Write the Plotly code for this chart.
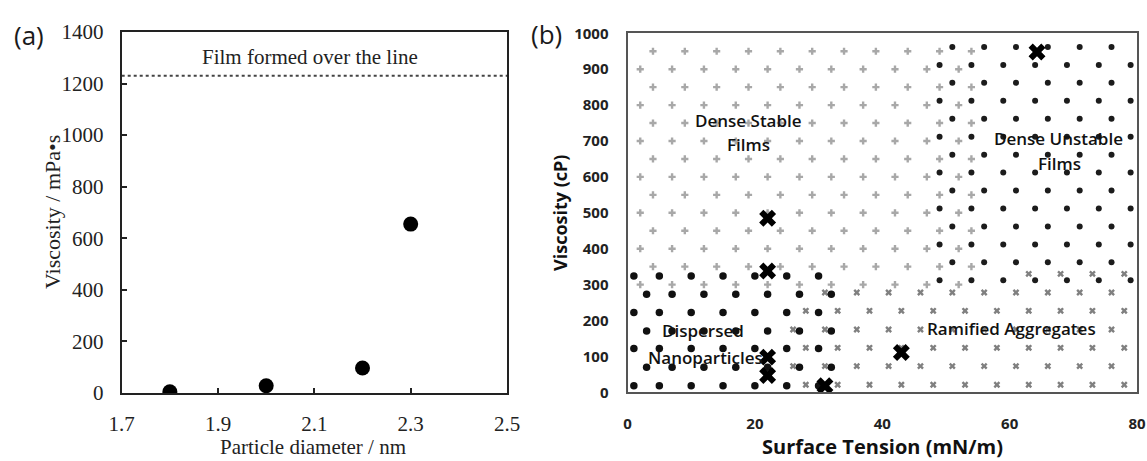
import plotly.graph_objects as go

# ---------------- Panel (a): viscosity vs particle diameter ----------------
diameter_nm = [1.8, 2.0, 2.2, 2.3]
viscosity_mpas = [5, 28, 97, 655]
film_threshold = 1230
a_xticks = [1.7, 1.9, 2.1, 2.3, 2.5]
a_yticks = [0, 200, 400, 600, 800, 1000, 1200, 1400]

# ---------------- Panel (b): regime map ----------------
# Dense stable films (grey crosses): two interleaved row sets
stable_y_odd = [950, 850, 750, 650, 550, 450, 350]
stable_x_odd = [4, 9, 14, 19, 24, 29, 34, 39, 44, 49, 54]
stable_y_even = [900, 800, 700, 600, 500, 400, 300]
stable_x_even = [2, 7, 12, 17, 22, 27, 32, 37, 42, 47, 52]

# Dense unstable films (small black dots)
unstable_y_odd = [962, 862, 762, 662, 562, 462, 362]
unstable_x_odd = [51, 56, 61, 66, 71, 76]
unstable_y_even = [912, 812, 712, 612, 512, 412, 312]
unstable_x_even = [49, 54, 59, 64, 69, 74, 79]

# Dispersed nanoparticles (black dots)
dispersed_y_odd = [324, 222, 122, 18]
dispersed_x_odd = [1, 5, 10, 15, 20, 25, 30]
dispersed_y_even = [273, 171, 70]
dispersed_x_even = [3, 7, 12, 17, 22, 27, 32]

# Ramified aggregates (grey x)
ramified_rows = [
    (330, [63, 68, 73, 78]),
    (278, [31, 36, 41, 46, 51, 56, 61, 66, 71, 76]),
    (227, [28, 33, 38, 43, 48, 53, 58, 63, 68, 73, 78]),
    (175, [26, 31, 36, 41, 46, 51, 56, 61, 66, 71, 76]),
    (124, [28, 33, 38, 43, 48, 53, 58, 63, 68, 73, 78]),
    (73, [26, 31, 36, 41, 46, 51, 56, 61, 66, 71, 76]),
    (21, [28, 33, 38, 43, 48, 53, 58, 63, 68, 73, 78]),
]

# Experimental conditions (bold crosses)
experiment_tension = [64.3, 22, 22, 22, 22, 31, 43]
experiment_viscosity = [948, 485, 338, 98, 47, 18, 111]

b_xticks = [0, 20, 40, 60, 80]
b_yticks = [0, 100, 200, 300, 400, 500, 600, 700, 800, 900, 1000]


def grid(ys, xs):
    px, py = [], []
    for yv in ys:
        for xv in xs:
            px.append(xv)
            py.append(yv)
    return px, py


def rows(row_list):
    px, py = [], []
    for yv, xs in row_list:
        for xv in xs:
            px.append(xv)
            py.append(yv)
    return px, py


serif = "Liberation Serif"
sans = "Open Sans"

fig = go.Figure()

# Panel (a) data
fig.add_trace(go.Scatter(
    x=diameter_nm, y=viscosity_mpas, mode="markers",
    marker=dict(symbol="circle", size=15, color="#000000"),
    xaxis="x", yaxis="y", showlegend=False, hoverinfo="skip"))

# Panel (b) data
sx1, sy1 = grid(stable_y_odd, stable_x_odd)
sx2, sy2 = grid(stable_y_even, stable_x_even)
fig.add_trace(go.Scatter(
    x=sx1 + sx2, y=sy1 + sy2, mode="markers",
    marker=dict(symbol="cross", size=6, color="#a8a8a8", line=dict(width=0)),
    xaxis="x2", yaxis="y2", showlegend=False, hoverinfo="skip"))

rx, ry = rows(ramified_rows)
fig.add_trace(go.Scatter(
    x=rx, y=ry, mode="markers",
    marker=dict(symbol="x", size=6, color="#808080", line=dict(width=0)),
    xaxis="x2", yaxis="y2", showlegend=False, hoverinfo="skip"))

ux1, uy1 = grid(unstable_y_odd, unstable_x_odd)
ux2, uy2 = grid(unstable_y_even, unstable_x_even)
fig.add_trace(go.Scatter(
    x=ux1 + ux2, y=uy1 + uy2, mode="markers",
    marker=dict(symbol="circle", size=6, color="#1c1c1c"),
    xaxis="x2", yaxis="y2", showlegend=False, hoverinfo="skip"))

dx1, dy1 = grid(dispersed_y_odd, dispersed_x_odd)
dx2, dy2 = grid(dispersed_y_even, dispersed_x_even)
fig.add_trace(go.Scatter(
    x=dx1 + dx2, y=dy1 + dy2, mode="markers",
    marker=dict(symbol="circle", size=7.5, color="#111111"),
    xaxis="x2", yaxis="y2", showlegend=False, hoverinfo="skip"))

fig.add_trace(go.Scatter(
    x=experiment_tension, y=experiment_viscosity, mode="markers",
    marker=dict(symbol="x", size=15, color="#000000"),
    xaxis="x2", yaxis="y2", showlegend=False, hoverinfo="skip"))

# Threshold line in panel (a)
fig.add_shape(type="line", xref="x", yref="y",
              x0=a_xticks[0], x1=a_xticks[-1], y0=film_threshold, y1=film_threshold,
              line=dict(color="#444444", width=2, dash="dot"))

W, H = 1147, 461
ax_dom = [121.7 / W, 507 / W]
ay_dom = [1 - 393 / H, 1 - 32 / H]
bx_dom = [627.5 / W, 1137 / W]
by_dom = [1 - 392.3 / H, 1 - 33.3 / H]

a_tickfont = dict(family=serif, size=21, color="#222222")
b_tickfont = dict(family=sans, size=15, color="#222222", weight="bold")

fig.update_layout(
    width=W, height=H,
    margin=dict(l=0, r=0, t=0, b=0),
    paper_bgcolor="white", plot_bgcolor="white",
    xaxis=dict(domain=ax_dom, range=[1.7, 2.5], tickvals=a_xticks,
               ticktext=[f"{v:.1f}" for v in a_xticks],
               showline=True, mirror=True, linecolor="#222222", linewidth=2,
               ticks="inside", ticklen=5, tickcolor="#222222", tickwidth=1.5,
               showgrid=False, zeroline=False, tickfont=a_tickfont,
               ticklabelstandoff=11, anchor="y", automargin=False),
    yaxis=dict(domain=ay_dom, range=[0, 1400], tickvals=a_yticks,
               showline=True, mirror=True, linecolor="#222222", linewidth=2,
               ticks="inside", ticklen=5, tickcolor="#222222", tickwidth=1.5,
               showgrid=False, zeroline=False, tickfont=a_tickfont,
               ticklabelstandoff=12, anchor="x", automargin=False),
    xaxis2=dict(domain=bx_dom, range=[0, 80], tickvals=b_xticks,
                showline=True, mirror=True, linecolor="#555555", linewidth=2,
                ticks="", showgrid=False, zeroline=False, tickfont=b_tickfont,
                ticklabelstandoff=17, anchor="y2", automargin=False),
    yaxis2=dict(domain=by_dom, range=[0, 1000], tickvals=b_yticks,
                showline=True, mirror=True, linecolor="#555555", linewidth=2,
                ticks="", showgrid=False, zeroline=False, tickfont=b_tickfont,
                ticklabelstandoff=14, anchor="x2", automargin=False),
)

ann = []
# Panel letters
ann.append(dict(text="(a)", x=29 / W, y=1 - 35 / H, xref="paper", yref="paper",
                showarrow=False, font=dict(family=sans, size=26, color="#1a1a1a"),
                xanchor="center", yanchor="middle"))
ann.append(dict(text="(b)", x=546 / W, y=1 - 34 / H, xref="paper", yref="paper",
                showarrow=False, font=dict(family=sans, size=26, color="#1a1a1a"),
                xanchor="center", yanchor="middle"))
# Panel (a) titles
ann.append(dict(text="Viscosity / mPa•s", x=52 / W, y=1 - 212 / H, xref="paper", yref="paper",
                textangle=-90, showarrow=False,
                font=dict(family=serif, size=22, color="#222222"),
                xanchor="center", yanchor="middle"))
ann.append(dict(text="Particle diameter / nm", x=313 / W, y=1 - 447 / H, xref="paper", yref="paper",
                showarrow=False, font=dict(family=serif, size=21, color="#222222"),
                xanchor="center", yanchor="middle"))
ann.append(dict(text="Film formed over the line", x=2.09, y=1302, xref="x", yref="y",
                showarrow=False, font=dict(family=serif, size=21, color="#222222"),
                xanchor="center", yanchor="middle"))
# Panel (b) titles
ann.append(dict(text="Viscosity (cP)", x=560 / W, y=1 - 213 / H, xref="paper", yref="paper",
                textangle=-90, showarrow=False,
                font=dict(family=sans, size=18, color="#111111", weight="bold"),
                xanchor="center", yanchor="middle"))
ann.append(dict(text="Surface Tension (mN/m)", x=882 / W, y=1 - 446 / H, xref="paper", yref="paper",
                showarrow=False,
                font=dict(family=sans, size=20, color="#111111", weight="bold"),
                xanchor="center", yanchor="middle"))
# Regime labels
region_labels = [
    ("Dense Stable", 19, 756), ("Films", 19, 689),
    ("Dense Unstable", 67.6, 707), ("Films", 67.8, 637),
    ("Dispersed", 11.8, 171), ("Nanoparticles", 12.2, 97),
    ("Ramified Aggregates", 60.3, 178),
]
for txt, xv, yv in region_labels:
    ann.append(dict(text=txt, x=xv, y=yv, xref="x2", yref="y2", showarrow=False,
                    font=dict(family=sans, size=17, color="#111111", weight=600),
                    xanchor="center", yanchor="middle"))

fig.update_layout(annotations=ann)

fig.write_html("out.html")
